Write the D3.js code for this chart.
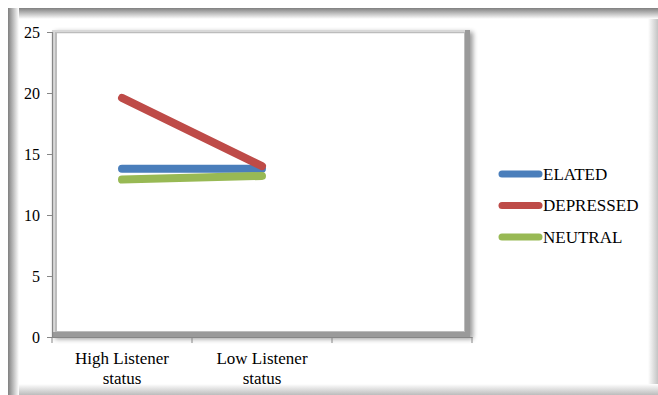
<!DOCTYPE html>
<html>
<head>
<meta charset="utf-8">
<script src="https://cdn.jsdelivr.net/npm/d3@7"></script>
<style>
  body { margin: 0; background: #fff; }
  svg text { font-family: "Liberation Serif", "Times New Roman", "DejaVu Serif", serif !important; fill: #000; }
</style>
</head>
<body>
<div id="chart"></div>
<script>
const categories = ["High Listener status", "Low Listener status", ""];
const seriesNames = ["ELATED", "DEPRESSED", "NEUTRAL"];
const elated = [13.8, 13.8];
const depressed = [19.6, 14.0];
const neutral = [12.9, 13.2];
const yTicks = [0, 5, 10, 15, 20, 25];

const colors = ["#4a7ebb", "#be4b48", "#98b954"];
const series = [elated, depressed, neutral];
const FONT = "'Liberation Serif', 'Times New Roman', serif";

const W = 658, H = 395;
const svg = d3.select("#chart").append("svg")
  .attr("width", W).attr("height", H);

const defs = svg.append("defs");
function grad(id, x1, y1, x2, y2, c1, c2) {
  const g = defs.append("linearGradient").attr("id", id)
    .attr("x1", x1).attr("y1", y1).attr("x2", x2).attr("y2", y2);
  g.append("stop").attr("offset", 0).attr("stop-color", c1);
  g.append("stop").attr("offset", 1).attr("stop-color", c2);
}
grad("gTop", 0, 0, 0, 1, "#808080", "#ffffff");
grad("gLeft", 0, 0, 1, 0, "#808080", "#ffffff");
grad("gRight", 0, 0, 1, 0, "#ffffff", "#c4c4c4");
grad("gBottom", 0, 0, 0, 1, "#ffffff", "#bcbcbc");

const shadow = defs.append("filter").attr("id", "shadow")
  .attr("x", "-5%").attr("y", "-5%").attr("width", "110%").attr("height", "110%");
shadow.append("feGaussianBlur").attr("in", "SourceAlpha").attr("stdDeviation", 2.5);
shadow.append("feOffset").attr("dx", 3).attr("dy", 2).attr("result", "b");
shadow.append("feComponentTransfer").append("feFuncA").attr("type", "linear").attr("slope", 0.4);
const mg = shadow.append("feMerge");
mg.append("feMergeNode");
mg.append("feMergeNode").attr("in", "SourceGraphic");

// outer frame with soft inner edges
svg.append("rect").attr("x", 8).attr("y", 8).attr("width", W - 8).attr("height", H - 8).attr("fill", "#fff");
svg.append("rect").attr("x", 8).attr("y", 8).attr("width", W - 8).attr("height", 11).attr("fill", "url(#gTop)");
svg.append("rect").attr("x", 8).attr("y", 8).attr("width", 11).attr("height", H - 8).attr("fill", "url(#gLeft)");
svg.append("rect").attr("x", W - 10).attr("y", 19).attr("width", 10).attr("height", H - 19).attr("fill", "url(#gRight)");
svg.append("rect").attr("x", 19).attr("y", H - 11).attr("width", W - 19).attr("height", 11).attr("fill", "url(#gBottom)");

const x = d3.scaleBand().domain(categories).range([52, 472]);
const y = d3.scaleLinear().domain([0, 25]).range([337, 32]);

// plot box with bevel
const box = svg.append("g");
box.append("rect")
  .attr("x", 52).attr("y", 30).attr("width", 418).attr("height", 307)
  .attr("fill", "#9a9a9a").attr("filter", "url(#shadow)");
box.append("rect")
  .attr("x", 52).attr("y", 30).attr("width", 413).attr("height", 302)
  .attr("fill", "#d8d8d8");
box.append("rect")
  .attr("x", 55).attr("y", 32).attr("width", 410).attr("height", 300)
  .attr("fill", "#bcbcbc");
box.append("rect")
  .attr("x", 57).attr("y", 33).attr("width", 407).attr("height", 298)
  .attr("fill", "#fff");
box.append("line")
  .attr("x1", 57).attr("x2", 464).attr("y1", 33.5).attr("y2", 33.5)
  .attr("stroke", "#eeeeee");

// axes
const yAxis = svg.append("g").attr("transform", "translate(52,0)")
  .call(d3.axisLeft(y).tickValues(yTicks).tickSize(5).tickPadding(7));
const xAxis = svg.append("g").attr("transform", "translate(0,337)")
  .call(d3.axisBottom(x).tickSize(0).tickFormat(""));
[yAxis, xAxis].forEach(a => {
  a.attr("font-family", null);
  a.select(".domain").attr("stroke", "#868686").attr("stroke-width", 1.2);
  a.selectAll(".tick line").attr("stroke", "#868686");
});
yAxis.selectAll(".tick text")
  .attr("fill", "#000")
  .style("font-family", FONT)
  .style("font-size", "16px");

// category boundary ticks
const bounds = categories.map(c => x(c)).concat([x.range()[1]]);
xAxis.selectAll("line.bt").data(bounds).join("line")
  .attr("class", "bt")
  .attr("x1", d => d).attr("x2", d => d)
  .attr("y1", 0).attr("y2", 6)
  .attr("stroke", "#868686");

// category labels, two lines
const lab = svg.append("g");
categories.forEach(c => {
  if (!c) return;
  const words = c.split(" ");
  const lines = [words.slice(0, 2).join(" "), words.slice(2).join(" ")];
  lines.forEach((t, k) => {
    lab.append("text")
      .attr("x", x(c) + x.bandwidth() / 2).attr("y", 364 + k * 20)
      .attr("text-anchor", "middle")
      .style("font-family", FONT).style("font-size", "17px")
      .text(t);
  });
});

// series lines
const line = d3.line()
  .x((d, i) => x(categories[i]) + x.bandwidth() / 2)
  .y(d => y(d));
svg.append("g").selectAll("path").data(series).join("path")
  .attr("d", line)
  .attr("fill", "none")
  .attr("stroke", (d, i) => colors[i])
  .attr("stroke-width", 8)
  .attr("stroke-linecap", "round");

// legend
const legend = svg.append("g");
seriesNames.forEach((n, i) => {
  const ly = 174 + i * 31.5;
  legend.append("line")
    .attr("x1", 502).attr("x2", 539).attr("y1", ly).attr("y2", ly)
    .attr("stroke", colors[i]).attr("stroke-width", 7)
    .attr("stroke-linecap", "round");
  legend.append("text")
    .attr("x", 543).attr("y", ly + 5.5)
    .style("font-family", FONT).style("font-size", "17px")
    .text(n);
});
</script>
</body>
</html>
